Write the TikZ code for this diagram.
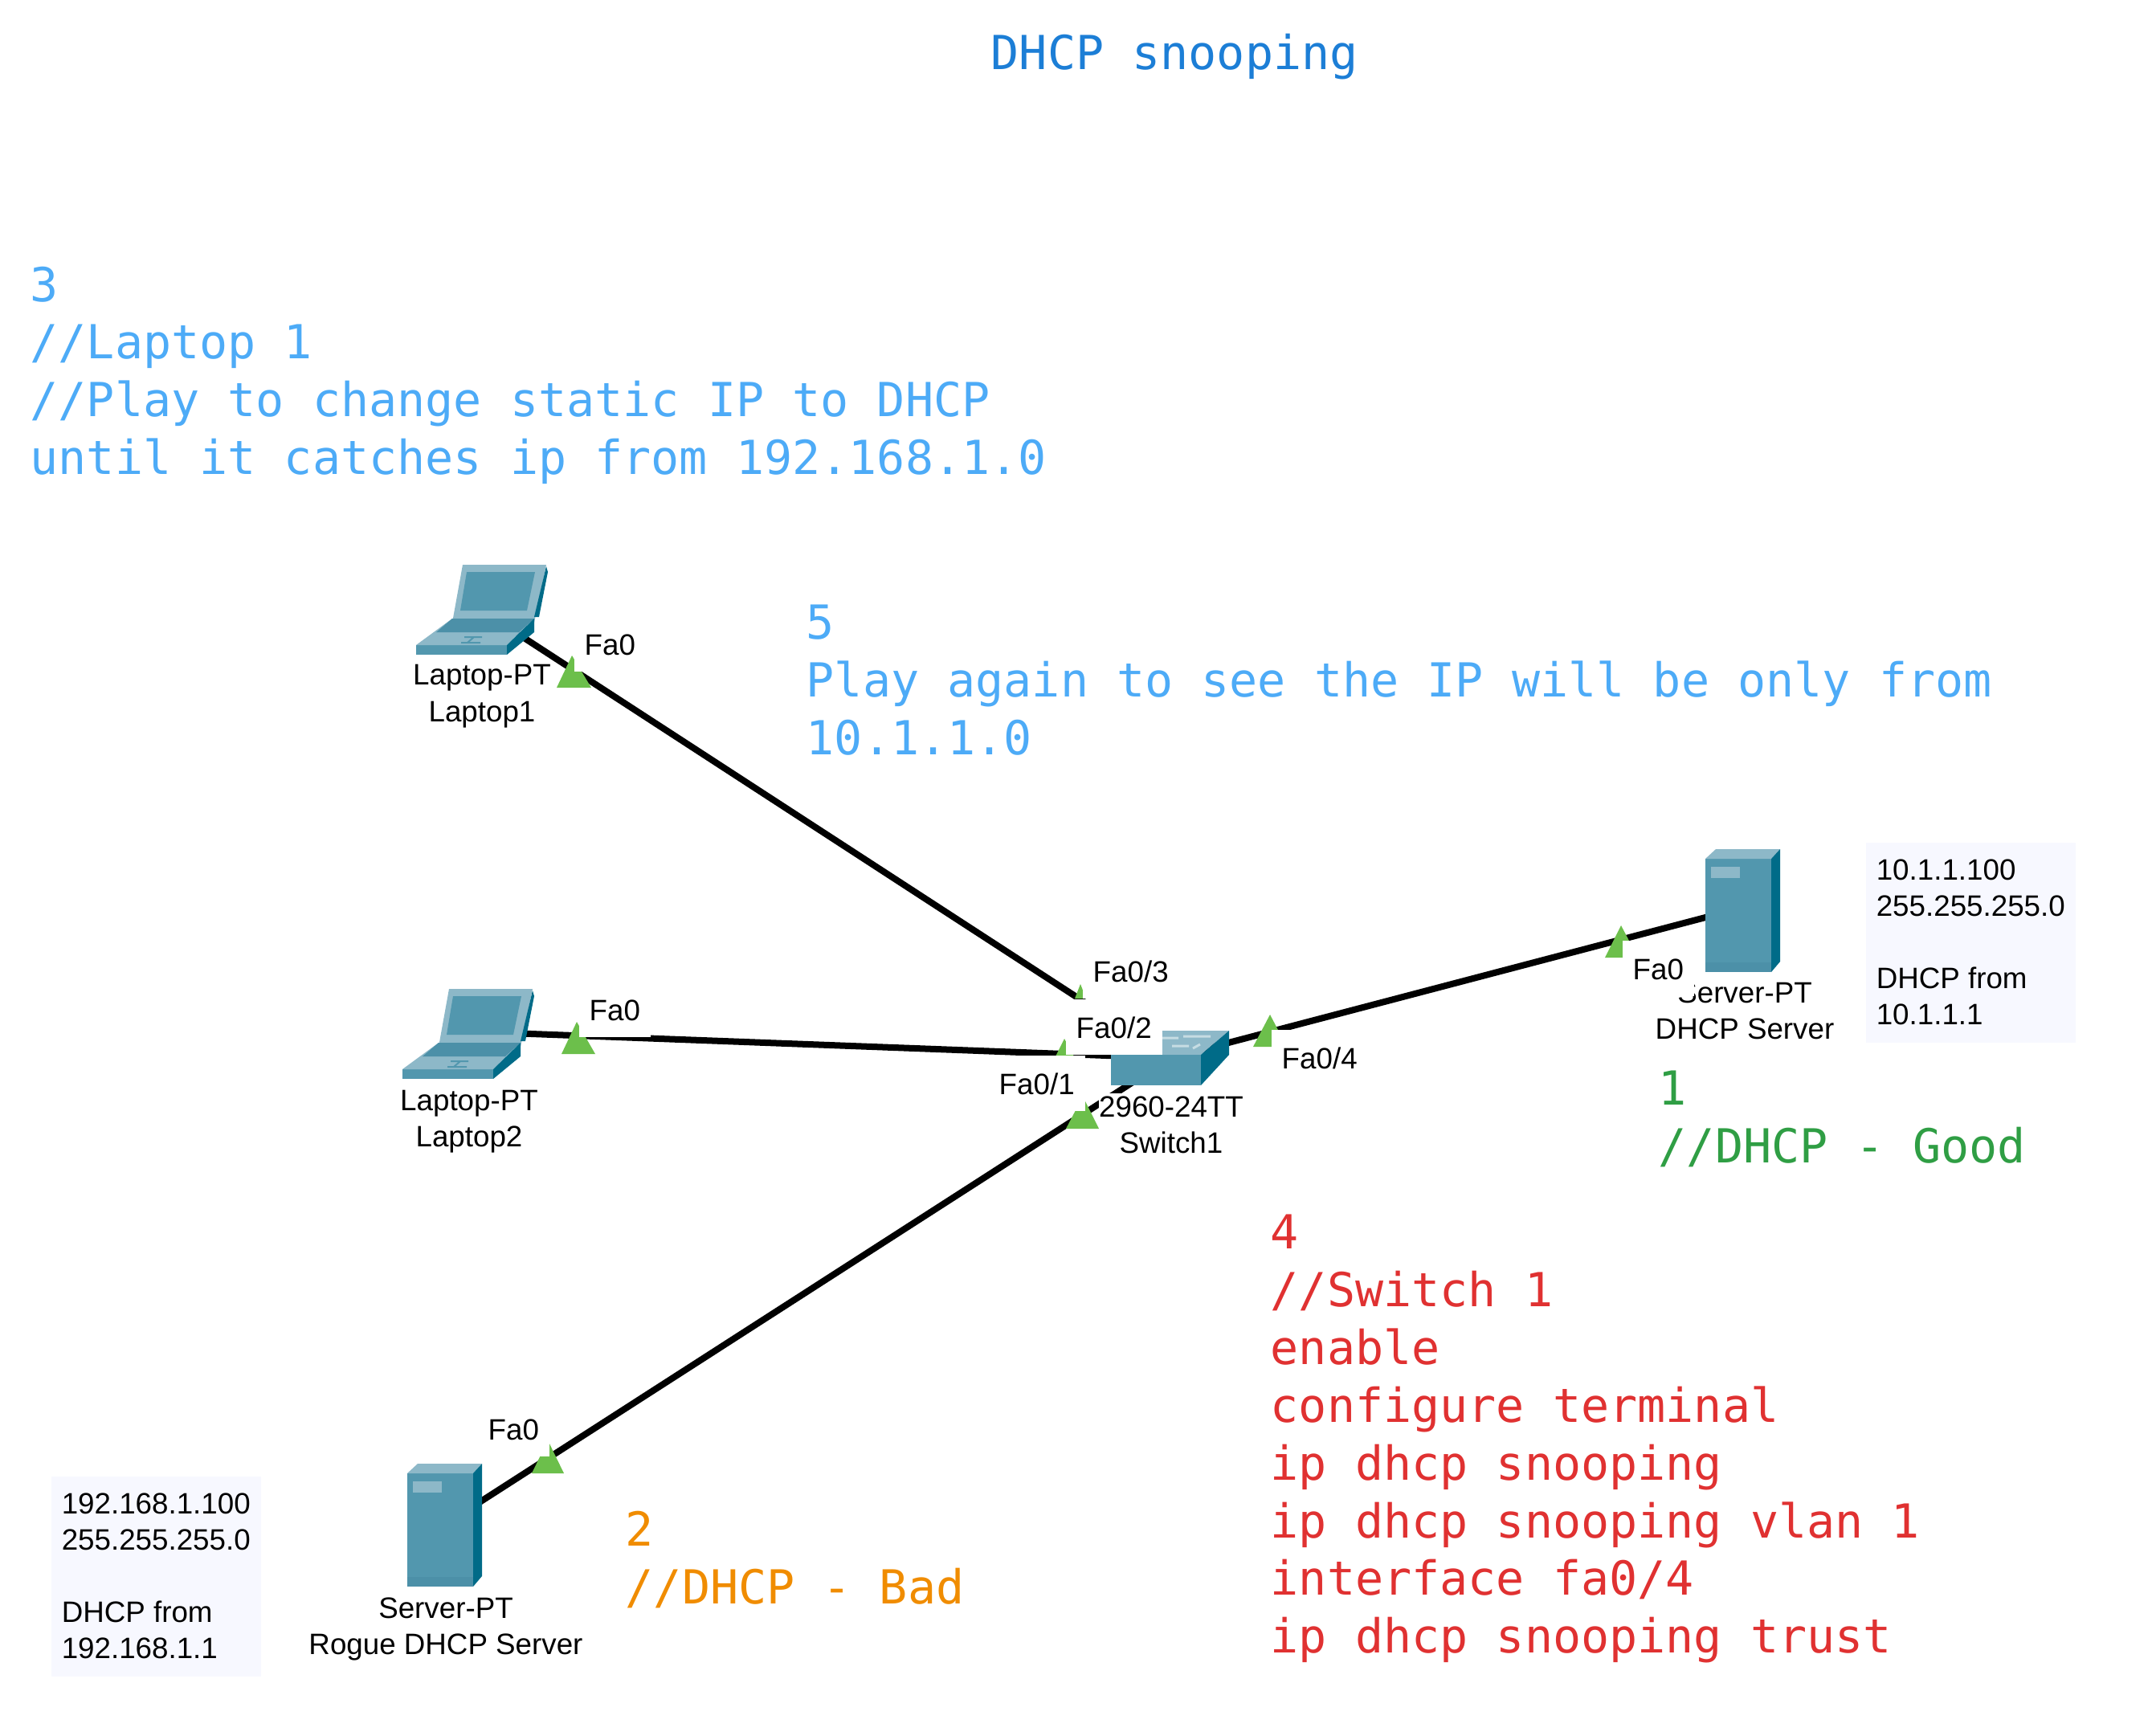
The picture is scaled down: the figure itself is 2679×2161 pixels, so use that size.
\documentclass[tikz,border=0pt]{standalone}
\usepackage{fontspec}
\setmainfont{Liberation Sans}
\setmonofont{DejaVu Sans Mono}
\definecolor{titleblue}{HTML}{1C7ED6}
\definecolor{noteblue}{HTML}{4DABF7}
\definecolor{notegreen}{HTML}{2F9E44}
\definecolor{notered}{HTML}{E03131}
\definecolor{noteorange}{HTML}{F08C00}
\definecolor{portgreen}{HTML}{6CBF4B}
\definecolor{infofill}{HTML}{F7F8FF}
\definecolor{iconfront}{HTML}{5297AE}
\definecolor{iconlight}{HTML}{8DB8C8}
\definecolor{icondark}{HTML}{006B88}
\definecolor{iconmid}{HTML}{4C90A8}
\tikzset{
  laptoppt/.pic={
    \fill[iconlight] (45,-40) -- (58,-112) -- (162,-112) -- (147,-40) -- cycle;
    \fill[iconfront] (0,0) -- (113,0) -- (113,-12) -- (0,-12) -- cycle;
    \fill[iconlight] (0,-12) -- (45,-45) -- (147,-45) -- (113,-12) -- cycle;
    \fill[iconmid] (25,-28) -- (45,-45) -- (147,-45) -- (128,-28) -- cycle;
    \fill[icondark] (113,0) -- (147,-28) -- (147,-45) -- (113,-12) -- cycle;
    \fill[icondark] (147,-47) -- (162,-110) -- (164,-103) -- (153,-47) -- cycle;
    \fill[iconfront] (55,-55) -- (63,-103) -- (148,-103) -- (138,-55) -- cycle;
    \draw[iconfront,line width=.02cm] (56,-15) -- (80,-15) (60,-22) -- (82,-22) (64,-15) -- (72,-22);
  },
  serverpt/.pic={
    \fill[iconfront] (0,0) rectangle (82,-141);
    \fill[iconmid] (0,0) rectangle (82,-12);
    \fill[iconlight] (0,-141) -- (13,-153) -- (93,-153) -- (82,-141) -- cycle;
    \fill[icondark] (82,0) -- (82,-141) -- (93,-153) -- (93,-13) -- cycle;
    \fill[iconlight] (7,-131) rectangle (43,-117);
  },
  switchpt/.pic={
    \fill[iconlight] (0,0) -- (35,-30) -- (147,-30) -- (112,0) -- cycle;
    \fill[iconfront] (0,0) rectangle (112,38);
    \fill[icondark] (112,38) -- (147,0) -- (147,-30) -- (112,0) -- cycle;
    \draw[iconlight!50!white,line width=.03cm] (60,-21) -- (84,-21) (90,-23) -- (124,-23)
      (102,-8) -- (111,-13) (76,-11) -- (97,-11);
  }
}
\begin{document}
\begin{tikzpicture}[x=.01cm,y=-.01cm,
  cable/.style={line width=.08cm,black},
  devicepoint/.style={inner sep=0pt,minimum size=0pt},
  note/.style={anchor=north west,inner sep=0pt,align=left,font=\ttfamily\fontsize{16.6}{20.46}\selectfont},
  devlabel/.style={anchor=north,inner sep=0pt,align=center,font=\fontsize{10.45}{12.8}\selectfont},
  portlabel/.style={anchor=base west,fill=white,inner xsep=.13cm,inner ysep=0pt,text height=.48cm,text depth=.21cm,font=\fontsize{10.45}{12.8}\selectfont},
  infobox/.style={anchor=north west,fill=infofill,inner sep=0pt,minimum width=2.61cm,minimum height=2.49cm,align=left,font=\fontsize{10.45}{12.8}\selectfont},
  portmark/.style={fill=portgreen}]

  \useasboundingbox (0,0) rectangle (2679,2161);

  % device centres, the cables run between them
  \node[devicepoint] (laptop1) at (600,760) {};
  \node[devicepoint] (laptop2) at (582,1284) {};
  \node[devicepoint] (rogue) at (555,1897) {};
  \node[devicepoint] (server) at (2165,1131) {};
  \node[devicepoint] (switch1) at (1457,1317) {};

  \draw[cable] (laptop1) -- (switch1);
  \draw[cable] (laptop2) -- (switch1);
  \draw[cable] (rogue) -- (switch1);
  \draw[cable] (server) -- (switch1);

  \pic at (518,815) {laptoppt};
  \pic at (501,1343) {laptoppt};
  \pic at (507,1975) {serverpt};
  \pic at (2123,1210) {serverpt};
  \pic at (1383,1313) {switchpt};

  \node[infobox] (goodinfo) at (2322,1048) {10.1.1.100\\255.255.255.0\\[12.8pt]DHCP from\\10.1.1.1};
  \node[infobox] (badinfo) at (63,1837) {192.168.1.100\\255.255.255.0\\[12.8pt]DHCP from\\192.168.1.1};

  \node[devlabel] (laptop1name) at (600,827) {Laptop-PT\\Laptop1};
  \node[devlabel] (laptop2name) at (584,1356) {Laptop-PT\\Laptop2};
  \node[devlabel] (roguename) at (555,1988) {Server-PT\\Rogue DHCP Server};
  \node[devlabel] (servername) at (2172,1222) {Server-PT\\DHCP Server};
  \node[devlabel,fill=white,inner ysep=.04cm] (switchname) at (1458,1360) {2960-24TT\\Switch1};

  \foreach \apexx/\apexy/\baseleft/\baseright/\basey in {
    712/816/693/736/856, 718/1272/699/741/1312, 682/1793/662/702/1834,
    1345/1225/1338/1352/1243, 1325/1293/1314/1337/1315, 1348/1365/1327/1368/1405,
    1581/1263/1560/1602/1303, 2018/1152/1998/2039/1192}
    \fill[portmark] (\apexx,\apexy) -- (\baseleft,\basey) -- (\baseright,\basey) -- cycle;

  \node[portlabel] (laptop1port) at (714,815) {Fa0};
  \node[portlabel] (laptop2port) at (720,1270) {Fa0};
  \node[portlabel] (rogueport) at (594,1792) {Fa0};
  \node[portlabel] (serverport) at (2019,1219) {Fa0};
  \node[portlabel] (fa03) at (1347,1222) {Fa0/3};
  \node[portlabel] (fa01) at (1230,1362) {Fa0/1};
  \node[portlabel] (fa02) at (1326,1292) {Fa0/2};
  \node[portlabel] (fa04) at (1582,1330) {Fa0/4};

  \node[note,text=titleblue] (title) at (1233,41) {DHCP snooping};
  \node[note,text=noteblue] (step3) at (37,331) {3\\//Laptop 1\\//Play to change static IP to DHCP\\until it catches ip from 192.168.1.0};
  \node[note,text=noteblue] (step5) at (1003,752) {5\\Play again to see the IP will be only from\\10.1.1.0};
  \node[note,text=notegreen] (step1) at (2064,1332) {1\\//DHCP - Good};
  \node[note,text=noteorange] (step2) at (778,1880) {2\\//DHCP - Bad};
  \node[note,text=notered] (step4) at (1581,1511) {4\\//Switch 1\\enable\\configure terminal\\ip dhcp snooping\\ip dhcp snooping vlan 1\\interface fa0/4\\ip dhcp snooping trust};
\end{tikzpicture}
\end{document}
